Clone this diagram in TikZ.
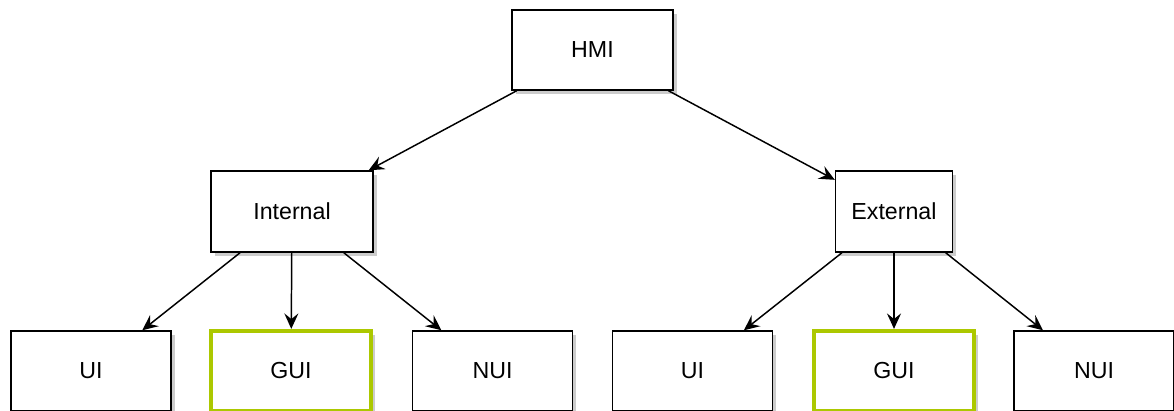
\documentclass[tikz,border=0pt]{standalone}
\usepackage{fontspec}
\setmainfont{Liberation Sans}
\usepackage{tikz}
\usetikzlibrary{arrows.meta, shadows}

\definecolor{guigreen}{RGB}{172,200,0}

\begin{document}
\begin{tikzpicture}[auto,
    font=\fontsize{16.5}{19}\selectfont,
    box/.style={draw, line width=1.05pt, fill=white, inner sep=0pt,
      minimum width=4cm, minimum height=2cm,
      drop shadow={shadow xshift=2.5pt, shadow yshift=-2.5pt, opacity=0.2, fill=black}},
    guibox/.style={box, draw=guigreen, line width=3pt},
    link/.style={-{Stealth[length=11pt, width=10pt, inset=4pt]}, line width=1.05pt}]
    \useasboundingbox (0,0) rectangle (29.35,-10.275);
    \node[box, minimum width=4.025cm] (hmi) at (14.8125,-1.25) {HMI};
    \node[box, minimum width=4.05cm, minimum height=2.025cm] (int) at (7.3,-5.2875) {Internal};
    \node[box, minimum width=2.925cm, minimum height=2.025cm] (ext) at (22.35,-5.2875) {External};
    \node[box] (ui1) at (2.275,-9.275) {UI};
    \node[guibox] (gui1) at (7.275,-9.275) {GUI};
    \node[box] (nui1) at (12.3125,-9.275) {NUI};
    \node[box] (ui2) at (17.3125,-9.275) {UI};
    \node[guibox] (gui2) at (22.35,-9.275) {GUI};
    \node[box] (nui2) at (27.35,-9.275) {NUI};
    % top level
    \draw[link] (hmi) -- (int);
    \draw[link] (hmi) -- (ext);
    % internal
    \draw[link] (int) -- (ui1);
    \draw[link] (int) -- (gui1);
    \draw[link] (int) -- (nui1);
    % external
    \draw[link] (ext) -- (ui2);
    \draw[link] (ext) -- (gui2);
    \draw[link] (ext) -- (nui2);
\end{tikzpicture}
\end{document}
